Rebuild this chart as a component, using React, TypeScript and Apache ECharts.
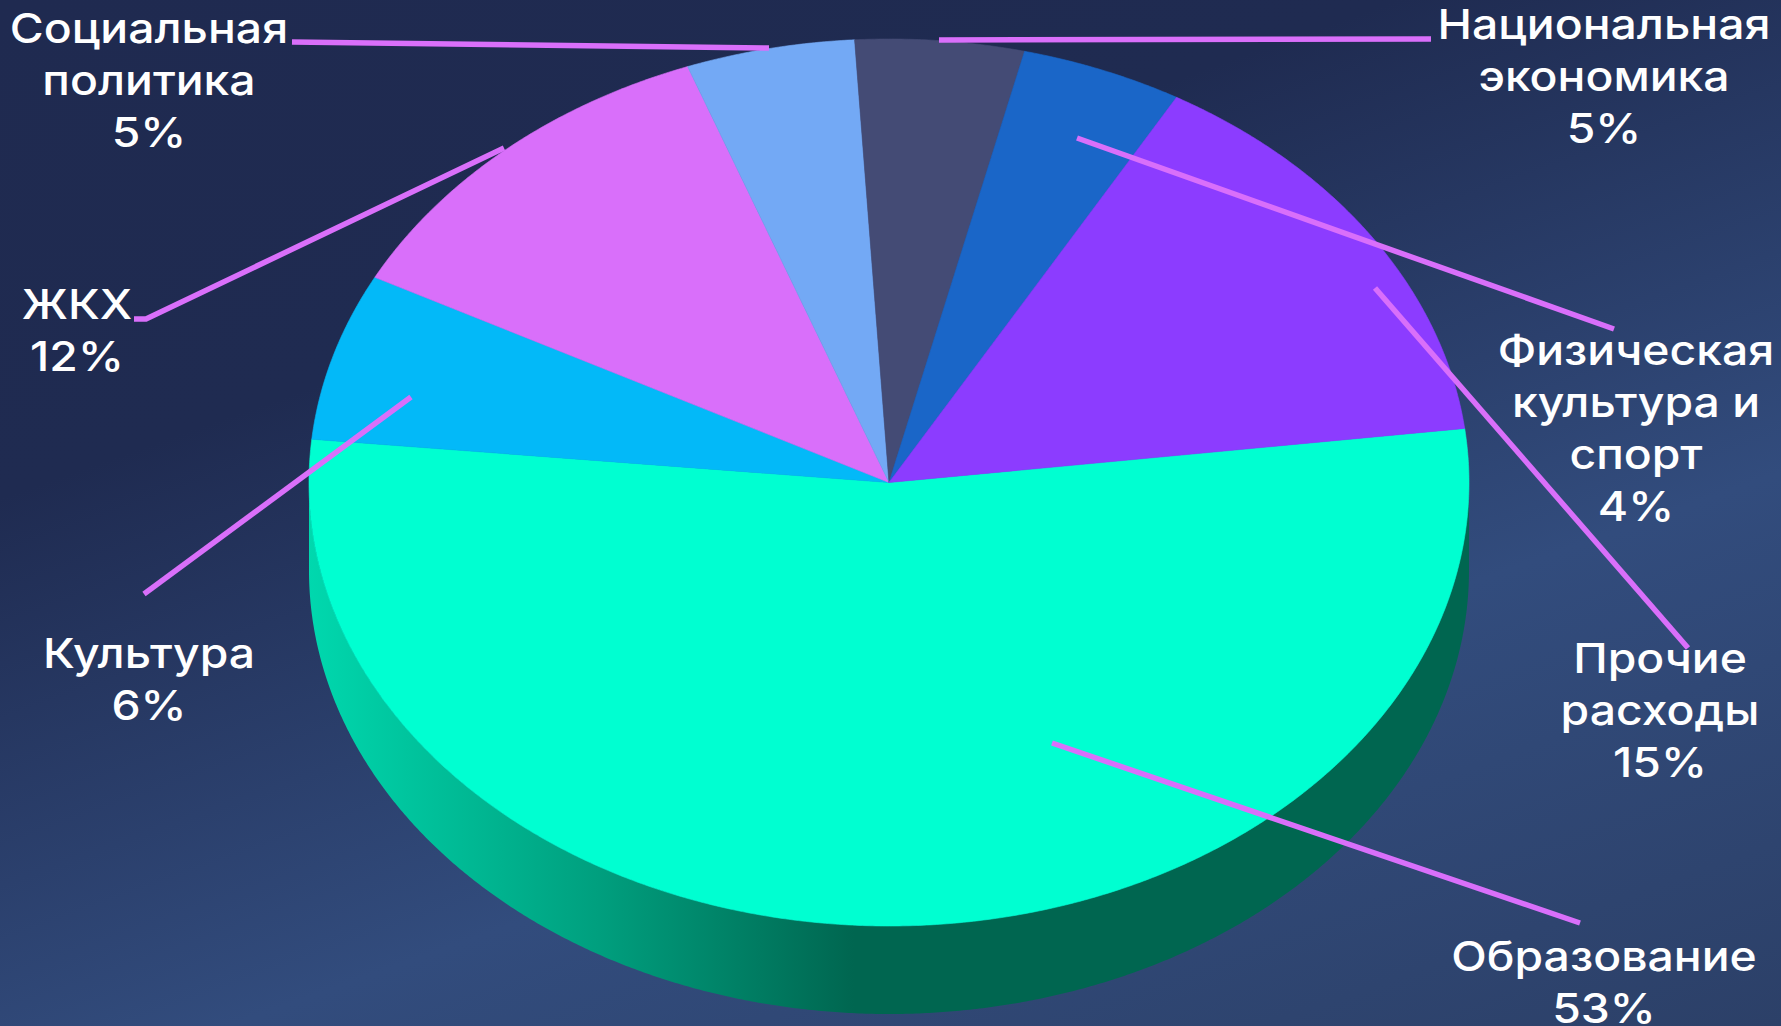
import React, { useEffect, useRef } from "react";
import * as echarts from "echarts";

// Printed labels, in the reference's order round the pie (clockwise from the right edge)
const names = [
  "Образование",
  "Культура",
  "ЖКХ",
  "Социальная\nполитика",
  "Национальная\nэкономика",
  "Физическая\nкультура и\nспорт",
  "Прочие\nрасходы",
];
const printedPercents = [53, 6, 12, 5, 5, 4, 15];
const shares = [53.5, 6.1, 11.7, 4.7, 4.7, 4.5, 14.8];
const sliceColors = ["#00ffd1", "#03b9f8", "#d96ffa", "#73a9f5", "#444b75", "#1a66c8", "#8c3cff"];

const startAngle = 7;
const center = [889, 482.5];
const radii = [580, 443.5];
const depth = 88;

const labelCenters = [
  [1604, 982],
  [149, 679],
  [77, 330],
  [149, 80],
  [1604, 76],
  [1636, 428],
  [1660, 710],
];
const leaderLines = [
  [[1052, 743], [1580, 923]],
  [[411, 397], [144, 594]],
  [[504, 148], [146, 319], [134, 319]],
  [[769, 48], [292, 42]],
  [[939, 40], [1431, 39]],
  [[1077, 138], [1614, 329]],
  [[1375, 288], [1688, 648]],
];

const ellipsePoint = (deg: number, dy = 0) => {
  const a = (deg * Math.PI) / 180;
  return [center[0] + radii[0] * Math.cos(a), center[1] - radii[1] * Math.sin(a) + dy];
};

const arcPoints = (from: number, to: number, dy = 0) => {
  const out: number[][] = [];
  const n = Math.max(2, Math.ceil(Math.abs(to - from) * 3));
  for (let i = 0; i <= n; i++) out.push(ellipsePoint(from + ((to - from) * i) / n, dy));
  return out;
};

const sideFill = new echarts.graphic.LinearGradient(
  center[0] - radii[0],
  0,
  center[0] + radii[0],
  0,
  [
    { offset: 0, color: "#00d8ae" },
    { offset: 0.25, color: "#009f7e" },
    { offset: 0.47, color: "#006650" },
    { offset: 1, color: "#006650" },
  ],
  true
);

const renderItem = (params: any, api: any) => {
  const idx = params.dataIndex;
  const before = shares.slice(0, idx).reduce((s, v) => s + v, 0);
  const value = api.value(0);
  const from = startAngle - (before / 100) * 360;
  const to = from - (value / 100) * 360;
  const children: any[] = [];
  // Only the largest slice faces the viewer: its rim is the visible extrusion.
  if (idx === 0) {
    const top = arcPoints(-180, 0);
    const bottom = arcPoints(0, -180, depth);
    children.push({
      type: "polygon",
      shape: { points: [...top, ...bottom] },
      style: { fill: sideFill },
    });
  }
  const color = api.visual("color");
  children.push({
    type: "polygon",
    shape: { points: [center, ...arcPoints(from, to)] },
    style: { fill: color, stroke: color, lineWidth: 0.6 },
  });
  return { type: "group", children };
};

export default function App() {
  const ref = useRef<HTMLDivElement>(null);

  useEffect(() => {
    document.body.style.margin = "0";
    document.body.style.overflow = "hidden";
    const chart = echarts.init(ref.current!, null, { renderer: "svg" });
    chart.setOption({
      animation: false,
      backgroundColor: new echarts.graphic.LinearGradient(
        0,
        0,
        525,
        1473,
        [
          { offset: 0, color: "#1f2a50" },
          { offset: 0.3, color: "#1f2b51" },
          { offset: 0.667, color: "#324c7d" },
          { offset: 1, color: "#2c4068" },
        ],
        true
      ),
      series: [
        {
          type: "custom",
          coordinateSystem: "none",
          renderItem,
          silent: true,
          clip: false,
          z: 2,
          data: shares.map((v, i) => ({
            name: names[i],
            value: [v],
            itemStyle: { color: sliceColors[i] },
          })),
        },
      ],
      graphic: {
        elements: [
          ...leaderLines.map((pts) => ({
            type: "polyline",
            z: 10,
            silent: true,
            shape: { points: pts },
            style: { stroke: "#d96ffa", lineWidth: 5.5, fill: "none" },
          })),
          ...names.map((n, i) => ({
            type: "text",
            z: 11,
            silent: true,
            x: labelCenters[i][0],
            y: labelCenters[i][1],
            scaleX: 1.13,
            style: {
              text: `${n}\n${printedPercents[i]}%`,
              fill: "#ffffff",
              font: '500 41px Inter, "Noto Sans", sans-serif',
              lineHeight: 52,
              align: "center",
              verticalAlign: "middle",
            },
          })),
        ],
      },
    });
    return () => chart.dispose();
  }, []);

  return <div ref={ref} style={{ width: 1781, height: 1026 }} />;
}
